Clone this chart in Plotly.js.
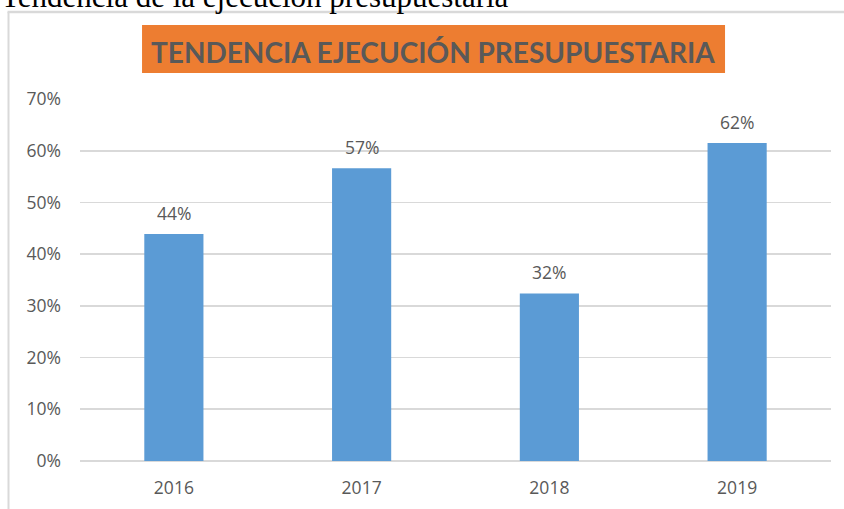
<!DOCTYPE html>
<html>
<head>
<meta charset="utf-8">
<script src="https://cdn.plot.ly/plotly-3.0.1.min.js"></script>
<style>
html,body{margin:0;padding:0;background:#fff;overflow:hidden;}
#chart{width:844px;height:509px;}
</style>
</head>
<body>
<div id="chart"></div>
<script>
const years = ['2016', '2017', '2018', '2019'];
const execution = [0.439, 0.566, 0.324, 0.615];
const yTickVals = [0, 0.1, 0.2, 0.3, 0.4, 0.5, 0.6, 0.7];
const yTickText = ['0%', '10%', '20%', '30%', '40%', '50%', '60%', '70%'];
const chartTitle = 'TENDENCIA EJECUCIÓN PRESUPUESTARIA';
const captionText = 'Tendencia de la ejecución presupuestaria';

const labelFont = {family: '"Open Sans", Lato, sans-serif', size: 17.5, color: '#595959'};

const trace = {
  type: 'bar',
  x: years,
  y: execution,
  marker: {color: '#5B9BD5'},
  hoverinfo: 'none'
};

const valueLabels = years.map((yr, i) => ({
  x: i, y: execution[i], xref: 'x', yref: 'y',
  text: Math.round(execution[i] * 100) + '%',
  showarrow: false, yanchor: 'middle', yshift: 21,
  font: labelFont
}));

const layout = {
  width: 844, height: 509,
  margin: {l: 80, r: 13, t: 99, b: 48},
  paper_bgcolor: '#ffffff',
  plot_bgcolor: '#ffffff',
  showlegend: false,
  bargap: 0.685,
  xaxis: {
    type: 'category',
    range: [-0.5, years.length - 0.5],
    showgrid: false, zeroline: false, showline: false,
    ticks: '', tickfont: labelFont, ticklabelstandoff: 14
  },
  yaxis: {
    range: [0, 0.7],
    tickvals: yTickVals, ticktext: yTickText,
    showgrid: true, gridcolor: '#d9d9d9', gridwidth: 1.8,
    zeroline: true, zerolinecolor: '#d9d9d9', zerolinewidth: 2.2,
    showline: false, ticks: '', tickfont: labelFont, ticklabelstandoff: 18
  },
  shapes: [
    {type: 'line', xref: 'paper', yref: 'paper', x0: -0.0952, x1: -0.0952, y0: -0.3, y1: 1.2403,
     line: {color: '#d9d9d9', width: 2}},
    {type: 'line', xref: 'paper', yref: 'paper', x0: -0.0965, x1: 1.05, y0: 1.2403, y1: 1.2403,
     line: {color: '#d9d9d9', width: 2.5}},
    {type: 'rect', xref: 'paper', yref: 'paper', x0: 0.0826, x1: 0.8589, y0: 1.0718, y1: 1.2044,
     fillcolor: '#ED7D31', line: {width: 0}}
  ],
  annotations: [
    {xref: 'paper', yref: 'paper', x: 0.4707, y: 1.1298, xanchor: 'center', yanchor: 'middle',
     text: '<b>' + chartTitle + '</b>', showarrow: false,
     font: {family: 'Lato, "Open Sans", sans-serif', size: 28, color: '#595959'}},
    {xref: 'paper', yref: 'paper', x: -0.108, y: 1.2845, xanchor: 'left', yanchor: 'middle',
     text: captionText, showarrow: false,
     font: {family: '"Liberation Serif", "DejaVu Serif", serif', size: 31, color: '#000000'}}
  ].concat(valueLabels)
};

Plotly.newPlot('chart', [trace], layout, {displayModeBar: false, staticPlot: true});
</script>
</body>
</html>
